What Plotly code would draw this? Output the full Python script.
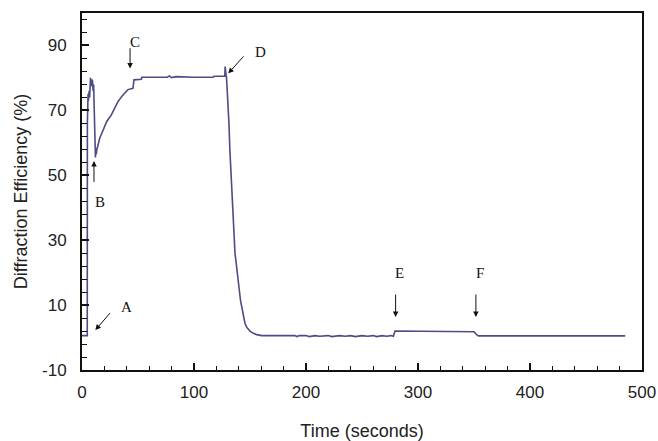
import plotly.graph_objects as go

# Diffraction efficiency trace
time_s = [
    0, 4.7, 4.8, 5.1, 5.4, 5.7, 6.0, 6.4, 6.8, 7.2, 7.6, 8.1, 8.6, 9.0, 9.4, 9.9,
    10.4, 10.8, 11.2, 11.6, 12.0, 12.4, 12.8, 13.2, 13.7, 15.8, 18.8, 22.0, 26.2,
    29.0, 32.1, 36.0, 41.0, 45.5, 46.4, 53.0, 53.4, 76, 78, 80, 84, 100, 117,
    118, 127.5, 127.8, 128.1, 128.4, 128.7, 129.0, 129.8, 130.6, 131.2, 132.0,
    132.8, 133.6, 134.3, 135.0, 135.8, 136.6, 137.3, 138.0, 139.2, 140.4, 141.5,
    142.6, 144.0, 145.5, 147.0, 148.5, 150.0, 153.0, 156.0, 160.4,
    190, 192, 194, 200, 203, 208, 212, 220, 223, 230, 235, 240, 244, 250, 255,
    260, 263, 268, 272, 276, 278, 279.5, 348, 350, 352, 354, 485,
]
efficiency = [
    0.6, 0.6, 66, 72, 75, 73, 74.5, 76, 74, 77, 80, 77.5, 78, 79.5, 79, 76,
    78, 72, 65, 59, 55.5, 58.5, 56.5, 58, 58.5, 61.4, 64, 66.5, 68.6,
    70.8, 72.7, 74.5, 76.4, 76.8, 79.4, 79.6, 80.2, 80.2, 80.6, 80.1, 80.4, 80.2, 80.2,
    80.5, 80.5, 83.5, 80.8, 83.2, 80.6, 80.4, 76, 71, 66, 58,
    52, 46.5, 41, 36.2, 31, 26, 24, 21.8, 17, 13.6, 11.5,
    9.5, 6.5, 4.4, 3.2, 2.6, 2.0, 1.3, 0.9, 0.6,
    0.6, 0.3, 0.6, 0.6, 0.3, 0.6, 0.4, 0.6, 0.3, 0.6, 0.4, 0.6, 0.3, 0.6, 0.4,
    0.6, 0.3, 0.6, 0.4, 0.6, 0.4, 2.0, 2.0, 1.8, 1.0, 0.5, 0.5,
]

# Axis ticks (hyphen minus as in the reference)
y_tick_vals = [-10, 10, 30, 50, 70, 90]
y_tick_labels = ["-10", "10", "30", "50", "70", "90"]

# Event markers: label, arrow head, arrow tail, text position (data units)
marker_labels = ["A", "B", "C", "D", "E", "F"]
head_x = [11.9, 10.7, 42.9, 130.6, 280.0, 351.7]
head_y = [2.3, 54.4, 82.9, 81.4, 6.3, 6.3]
tail_x = [26.2, 10.7, 42.9, 145.5, 280.0, 351.7]
tail_y = [8.0, 47.5, 89.6, 87.1, 13.7, 13.7]
text_x = [39.6, 15.8, 47.3, 159.0, 283.9, 355.5]
text_y = [9.5, 41.9, 91.2, 88.0, 20.0, 20.0]

LINE = "#4c4c86"
SANS = "Liberation Sans, Arial, sans-serif"
SERIF = "Liberation Serif, Times New Roman, serif"

fig = go.Figure(go.Scatter(
    x=time_s, y=efficiency,
    mode="lines",
    line=dict(color=LINE, width=1.6),
    showlegend=False,
))

for lab, hx, hy, tx, ty, lx, ly in zip(marker_labels, head_x, head_y,
                                          tail_x, tail_y, text_x, text_y):
    fig.add_annotation(
        x=hx, y=hy, ax=tx, ay=ty, axref="x", ayref="y",
        text="", showarrow=True, arrowhead=2, arrowsize=1.1,
        arrowwidth=1, arrowcolor="#111111",
    )
    fig.add_annotation(
        x=lx, y=ly, text=lab, showarrow=False,
        font=dict(family=SERIF, size=15, color="#111111"),
    )

fig.update_layout(
    width=658, height=441,
    paper_bgcolor="white", plot_bgcolor="white",
    margin=dict(l=82, r=16, t=13, b=71),
    font=dict(family=SANS, color="#222222"),
    xaxis=dict(
        range=[0, 500], dtick=100, tick0=0, automargin=False,
        ticks="inside", ticklen=7, tickwidth=1.5, tickcolor="#111111",
        minor=dict(dtick=20, ticks="inside", ticklen=4, tickwidth=1.2, tickcolor="#111111"),
        showline=True, linecolor="#111111", linewidth=2, mirror=True,
        showgrid=False, zeroline=False,
        tickfont=dict(size=17, family=SANS, color="#222222"),
        ticklabelstandoff=6,
        title=dict(text="Time (seconds)", font=dict(size=18, family=SANS, color="#222222"), standoff=30),
    ),
    yaxis=dict(
        range=[-10, 100], tickvals=y_tick_vals, ticktext=y_tick_labels, automargin=False,
        ticks="inside", ticklen=7, tickwidth=1.5, tickcolor="#111111",
        minor=dict(dtick=4, tick0=-10, ticks="inside", ticklen=5, tickwidth=1.2, tickcolor="#111111"),
        showline=True, linecolor="#111111", linewidth=2, mirror=True,
        showgrid=False, zeroline=False,
        tickfont=dict(size=17, family=SANS, color="#222222"),
        ticklabelstandoff=10,
        title=dict(text="Diffraction Efficiency (%)", font=dict(size=18, family=SANS, color="#222222"), standoff=10),
    ),
)

# drop the default 8px page margin so the figure fills the window exactly
fig.write_html(
    "out.html",
    config={"displayModeBar": False},
    post_script="document.body.style.margin='0';",
)
